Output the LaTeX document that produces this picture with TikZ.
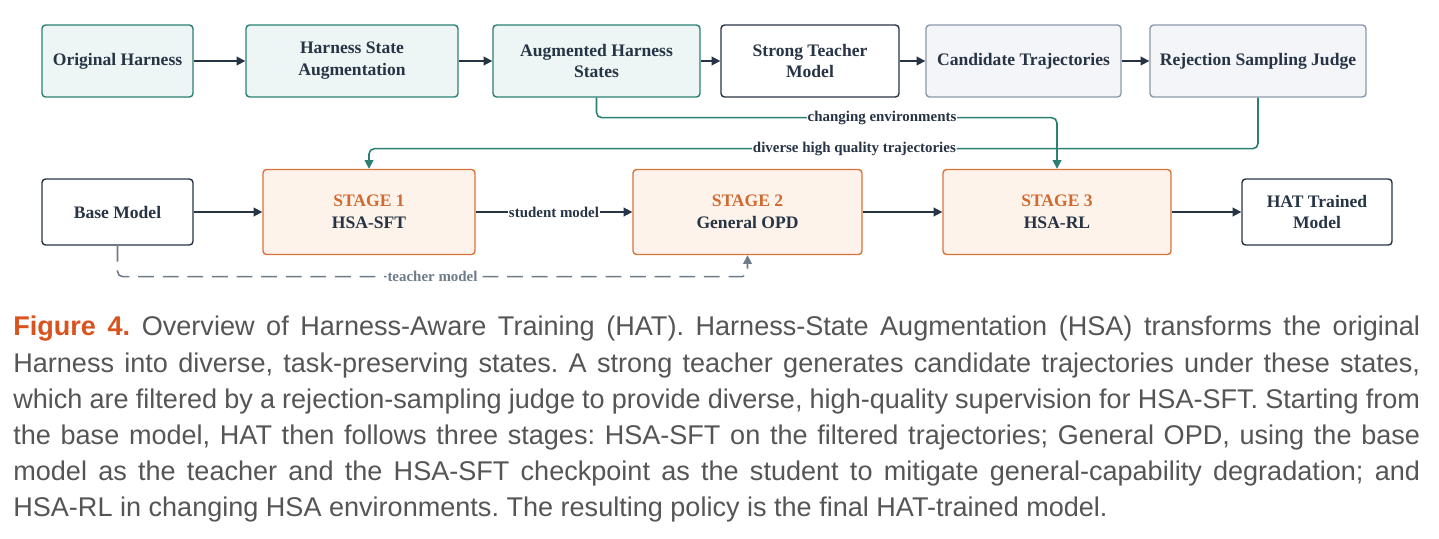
\documentclass[tikz,border=0pt]{standalone}
\usepackage{fontspec}
\setmainfont{Liberation Serif}
\newfontfamily\capfont{Liberation Sans}
\usetikzlibrary{positioning, arrows.meta}
\definecolor{tealline}{HTML}{2A8073}
\definecolor{tealfill}{HTML}{EDF6F4}
\definecolor{navy}{HTML}{263445}
\definecolor{slateline}{HTML}{8A99AB}
\definecolor{slatefill}{HTML}{F3F5F8}
\definecolor{stageline}{HTML}{D9733A}
\definecolor{stagefill}{HTML}{FEF3EA}
\definecolor{stagetext}{HTML}{D06A30}
\definecolor{dashgray}{HTML}{6E7B88}
\definecolor{figorange}{HTML}{D9531E}
\definecolor{captext}{HTML}{555555}
\tikzset{
  box/.style={draw, rounded corners=2pt, line width=0.8pt, align=center,
    font=\bfseries\fontsize{10}{12.5}\selectfont, text=navy, inner sep=0pt},
  tealbox/.style={box, draw=tealline, fill=tealfill},
  plainbox/.style={box, draw=navy, fill=white},
  slatebox/.style={box, draw=slateline, fill=slatefill},
  stagebox/.style={box, draw=stageline, fill=stagefill},
  flow/.style={-{Triangle[length=5pt,width=5pt]}, line width=1pt, navy},
  feed/.style={-{Triangle[length=5pt,width=5pt]}, line width=0.9pt, tealline, rounded corners=3pt},
  lab/.style={font=\bfseries\fontsize{8.5}{10}\selectfont, fill=white, inner sep=0.5pt, text=navy}
}
\begin{document}
\begin{tikzpicture}[x=0.02cm, y=-0.02cm]
\useasboundingbox (0,0) rectangle (1439,538);
% top row
\node[tealbox, minimum width=3.02cm, minimum height=1.44cm] (orig) at (117.5,61) {Original Harness};
\node[tealbox, minimum width=4.24cm, minimum height=1.44cm] (hsa) at (352,61) {Harness State\\Augmentation};
\node[tealbox, minimum width=4.14cm, minimum height=1.44cm] (aug) at (596.5,61) {Augmented Harness\\States};
\node[plainbox, minimum width=3.56cm, minimum height=1.44cm] (teacher) at (810,61) {Strong Teacher\\Model};
\node[slatebox, minimum width=3.90cm, minimum height=1.44cm] (cand) at (1023.5,61) {Candidate Trajectories};
\node[slatebox, minimum width=4.32cm, minimum height=1.44cm] (judge) at (1258,61) {Rejection Sampling Judge};
% bottom row
\node[plainbox, minimum width=3.02cm, minimum height=1.32cm] (base) at (117.5,212) {Base Model};
\node[stagebox, minimum width=4.24cm, minimum height=1.70cm] (s1) at (369,212) {{\color{stagetext}STAGE 1}\\HSA-SFT};
\node[stagebox, minimum width=4.58cm, minimum height=1.70cm] (s2) at (747.5,212) {{\color{stagetext}STAGE 2}\\General OPD};
\node[stagebox, minimum width=4.56cm, minimum height=1.70cm] (s3) at (1057,212) {{\color{stagetext}STAGE 3}\\HSA-RL};
\node[plainbox, minimum width=3.00cm, minimum height=1.32cm] (hat) at (1317,212) {HAT Trained\\Model};
% main flow
\draw[flow] (orig) -- (hsa);
\draw[flow] (hsa) -- (aug);
\draw[flow] (aug) -- (teacher);
\draw[flow] (teacher) -- (cand);
\draw[flow] (cand) -- (judge);
\draw[flow] (base) -- (s1);
\draw[flow] (s1) -- node[lab] {student model} (s2);
\draw[flow] (s2) -- (s3);
\draw[flow] (s3) -- (hat);
% feedback
\draw[feed] (aug.south) -- ++(0,20) -| node[lab, pos=0.31] {changing environments} (s3.north);
\draw[feed] (judge.south) -- ++(0,51) -| node[lab, pos=0.227] {diverse high quality trajectories} (s1.north);
\draw[-{Triangle[length=5pt,width=5pt]}, line width=0.9pt, dashgray, dash pattern=on 9pt off 5pt, rounded corners=3pt]
  (base.south) -- ++(0,31) -| node[lab, pos=0.25, text=dashgray] {teacher model} (s2.south);
% caption
\node[anchor=north west, text width=28.14cm, align=justify, inner sep=0pt, text=captext,
  font=\capfont\fontsize{15.4}{20.6}\selectfont\frenchspacing] (cap) at (13,316)
{{\color{figorange}\bfseries Figure 4.} Overview of Harness-Aware Training (HAT). Harness-State Augmentation (HSA) transforms the original\linebreak
Harness into diverse, task-preserving states. A strong teacher generates candidate trajectories under these states,\linebreak
which are filtered by a rejection-sampling judge to provide diverse, high-quality supervision for HSA-SFT. Starting from\linebreak
the base model, HAT then follows three stages: HSA-SFT on the filtered trajectories; General OPD, using the base\linebreak
model as the teacher and the HSA-SFT checkpoint as the student to mitigate general-capability degradation; and\linebreak
HSA-RL in changing HSA environments. The resulting policy is the final HAT-trained model.};
\end{tikzpicture}
\end{document}
